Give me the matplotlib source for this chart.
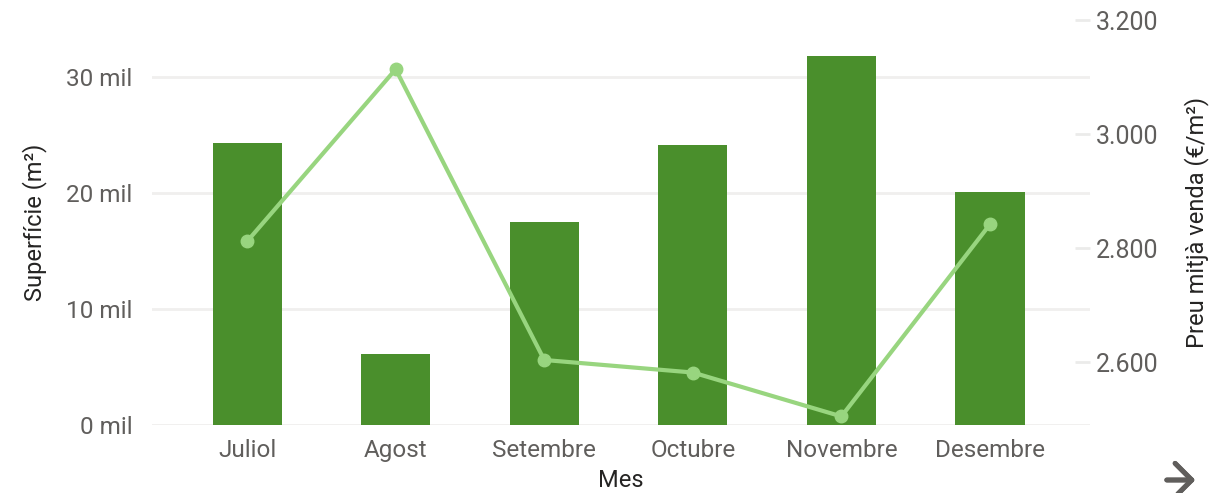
import numpy as np
import matplotlib
matplotlib.use('Agg')
import matplotlib.pyplot as plt

# dades llegides del gràfic
mesos = ['Juliol', 'Agost', 'Setembre', 'Octubre', 'Novembre', 'Desembre']
superficie = [24300, 6100, 17500, 24150, 31800, 20100]
preu = [2812, 3114, 2604, 2582, 2505, 2842]
ticks_esq = [0, 10000, 20000, 30000]
ticks_dre = [2600, 2800, 3000, 3200]

plt.rcParams['font.family'] = ['Roboto', 'DejaVu Sans']

fig = plt.figure(figsize=(12.16, 4.93), dpi=100)
ax = fig.add_axes([0.125, 0.138, 0.771, 0.821])
x = np.arange(len(mesos))

ax.bar(x, superficie, width=0.465, color='#4a8f2c', zorder=3)
ax.set_xlim(-0.64, 5.67)
ax.set_ylim(0, 34900)
ax.set_yticks(ticks_esq)
ax.set_yticklabels(['%d mil' % (v // 1000) for v in ticks_esq])
ax.grid(axis='y', color='#f0efee', linewidth=2, zorder=0)
ax.set_xticks(x)
ax.set_xticklabels(mesos)
ax.tick_params(length=0, labelsize=17.5, colors='#605e5c')
ax.tick_params(axis='x', pad=10)
ax.tick_params(axis='y', pad=14)
for s in ax.spines.values():
    s.set_visible(False)
ax.set_ylabel('Superfície (m²)', fontsize=17, color='#252423', va='center')
ax.yaxis.set_label_coords(-0.125, 0.5)
ax.set_xlabel('Mes', fontsize=17, color='#252423', va='center')
ax.xaxis.set_label_coords(0.5, -0.138)

ax2 = ax.twinx()
ax2.plot(x, preu, color='#98d57f', linewidth=3, marker='o', markersize=9, zorder=4)
ax2.set_ylim(2490, 3200)
ax2.set_yticks(ticks_dre)
ax2.set_yticklabels(['{:,}'.format(v).replace(',', '.') for v in ticks_dre])
ax2.tick_params(axis='y', direction='in', length=11, width=2, color='#ebebea',
                labelsize=18, labelcolor='#605e5c', pad=-2)
for lab in ax2.get_yticklabels():
    lab.set_x(1.01)
for s in ax2.spines.values():
    s.set_visible(False)
ax2.set_ylabel('Preu mitjà venda (€/m²)', fontsize=17, color='#252423', va='center')
ax2.yaxis.set_label_coords(1.114, 0.5)

# icona de fletxa a baix a la dreta
fig.add_artist(plt.annotate('', xy=(1198, 13), xytext=(1164, 13),
                            xycoords='figure pixels', textcoords='figure pixels',
                            arrowprops=dict(arrowstyle='->,head_length=0.6,head_width=0.6',
                                            lw=3.5, color='#605e5c', mutation_scale=20)))

fig.savefig('out.png', dpi=100)
